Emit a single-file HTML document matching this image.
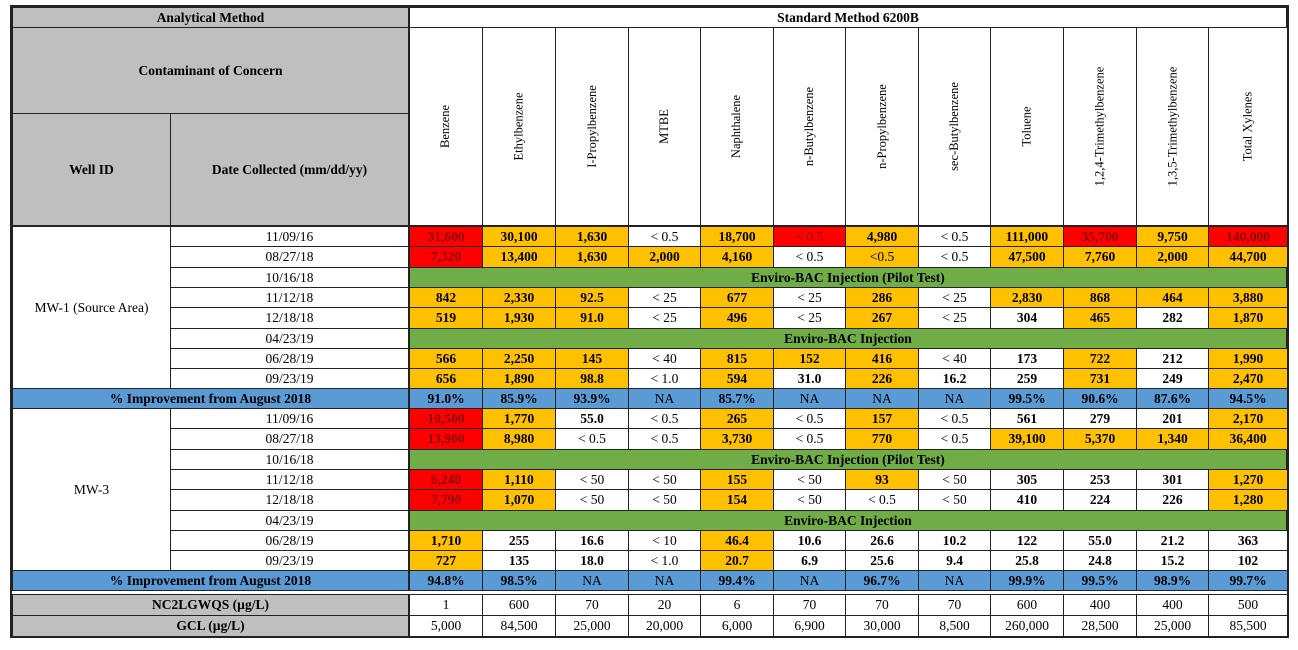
<!DOCTYPE html>
<html><head><meta charset="utf-8">
<style>
html,body{margin:0;padding:0;background:#fff;width:1298px;height:650px;overflow:hidden}
#t{position:absolute;left:0;top:0;width:1298px;height:650px;font-family:"Liberation Serif",serif;color:#000}
.c{position:absolute;box-sizing:border-box;border:1px solid #222;display:flex;align-items:center;justify-content:center;font-size:13.5px;white-space:nowrap;overflow:hidden}
.b{font-weight:bold}
.g{background:#BFBFBF}
.r{background:#FF0000;color:#8B0000}
.o{background:#FFC000}
.w{background:#fff}
.gr{background:#70AD47}
.bl{background:#5B9BD5}
.v span{transform:rotate(-90deg);display:block;font-size:12.5px}
#frame{position:absolute;left:10px;top:5px;width:1279px;height:633px;border:2px solid #222;box-sizing:border-box}
</style></head>
<body>
<div id="t"></div>
<div id="frame"></div>
<script>
const contaminants=["Benzene","Ethylbenzene","I-Propylbenzene","MTBE","Naphthalene","n-Butylbenzene","n-Propylbenzene","sec-Butylbenzene","Toluene","1,2,4-Trimethylbenzene","1,3,5-Trimethylbenzene","Total Xylenes"];
const dates=["11/09/16","08/27/18","10/16/18","11/12/18","12/18/18","04/23/19","06/28/19","09/23/19"];
const mw1Values=[
["31,600","30,100","1,630","< 0.5","18,700","< 0.5","4,980","< 0.5","111,000","35,700","9,750","140,000"],
["7,320","13,400","1,630","2,000","4,160","< 0.5","<0.5","< 0.5","47,500","7,760","2,000","44,700"],
"Enviro-BAC Injection (Pilot Test)",
["842","2,330","92.5","< 25","677","< 25","286","< 25","2,830","868","464","3,880"],
["519","1,930","91.0","< 25","496","< 25","267","< 25","304","465","282","1,870"],
"Enviro-BAC Injection",
["566","2,250","145","< 40","815","152","416","< 40","173","722","212","1,990"],
["656","1,890","98.8","< 1.0","594","31.0","226","16.2","259","731","249","2,470"]];
const mw1Colors=["rooworowored","rrooooowooooo".slice(0,0)+"roooowowoooo",null,"oooowowowooo","oooowowowowo",null,"oooowowowowo","oooowowowowo"];
const mw1Improve=["91.0%","85.9%","93.9%","NA","85.7%","NA","NA","NA","99.5%","90.6%","87.6%","94.5%"];
const mw3Values=[
["10,500","1,770","55.0","< 0.5","265","< 0.5","157","< 0.5","561","279","201","2,170"],
["13,900","8,980","< 0.5","< 0.5","3,730","< 0.5","770","< 0.5","39,100","5,370","1,340","36,400"],
"Enviro-BAC Injection (Pilot Test)",
["6,240","1,110","< 50","< 50","155","< 50","93","< 50","305","253","301","1,270"],
["7,790","1,070","< 50","< 50","154","< 50","< 0.5","< 50","410","224","226","1,280"],
"Enviro-BAC Injection",
["1,710","255","16.6","< 10","46.4","10.6","26.6","10.2","122","55.0","21.2","363"],
["727","135","18.0","< 1.0","20.7","6.9","25.6","9.4","25.8","24.8","15.2","102"]];
const mw3Colors=["rowwowowwwwo","rowwowowoooo",null,"rowwowowwwwo","rowwowwwwwwo",null,"owwwowwwwwww","owwwowwwwwww"];
const mw3Improve=["94.8%","98.5%","NA","NA","99.4%","NA","96.7%","NA","99.9%","99.5%","98.9%","99.7%"];
const standardValues=["1","600","70","20","6","70","70","70","600","400","400","500"];
const gclValues=["5,000","84,500","25,000","20,000","6,000","6,900","30,000","8,500","260,000","28,500","25,000","85,500"];
// fix first MW-1 color row
mw1Colors[0]="rooworoworor";
mw1Colors[1]="roooowowoooo";
mw1Colors[3]="ooowowowoooo";
mw1Colors[4]="ooowowowwowo";
mw1Colors[6]="ooowooowwowo";
mw1Colors[7]="ooowowowwowo";

const T=document.getElementById('t');
const colX=[409,482,555,628,700,773,845,918,990,1063,1136,1208,1287];
function cell(x,y,w,h,txt,cls,name){
  const d=document.createElement('div');
  d.className='c '+cls;
  d.style.left=x+'px';d.style.top=y+'px';d.style.width=w+'px';d.style.height=h+'px';
  const s=document.createElement('span');s.textContent=txt;d.appendChild(s);
  
  
  T.appendChild(d);return d;
}
// header
cell(12,7,397,21,"Analytical Method","g b","analytical-method-header");
cell(409,7,878,21,"Standard Method 6200B","w b","method-name-header");
cell(12,27,397,87,"Contaminant of Concern","g b","contaminant-header");
cell(12,113,159,113,"Well ID","g b","well-id-header");
cell(170,113,239,113,"Date Collected (mm/dd/yy)","g b","date-collected-header");
contaminants.forEach((n,i)=>{cell(colX[i],27,colX[i+1]-colX[i]+1,199,n,"w v","contaminant-"+i);});
function block(top,rowsV,cols,improve,well,prefix){
  const rh=20.3;
  const ys=[];for(let i=0;i<=8;i++)ys.push(Math.round(top+i*rh));
  cell(12,ys[0],159,ys[8]-ys[0]+1,well,"w",prefix+"-well-id");
  rowsV.forEach((r,i)=>{
    const y=ys[i],h=ys[i+1]-ys[i]+1;
    cell(170,y,239,h,dates[i],"w",prefix+"-date-"+i);
    if(typeof r==='string'){cell(409,y,878,h,r,"gr b",prefix+"-injection-note-"+i);return;}
    r.forEach((v,j)=>{
      const c=cols[i][j]==='r'?'r':cols[i][j]==='o'?'o':'w';
      const bold=(v[0]==='<')?'':' b';
      cell(colX[j],y,colX[j+1]-colX[j]+1,h,v,c+bold,prefix+"-value-"+i+"-"+j);
    });
  });
  const y=ys[8],h=21;
  cell(12,y,397,h,"% Improvement from August 2018","bl b",prefix+"-improvement-label");
  improve.forEach((v,j)=>{cell(colX[j],y,colX[j+1]-colX[j]+1,h,v,"bl"+(v==='NA'?'':' b'),prefix+"-improvement-"+j);});
}
block(226,mw1Values,mw1Colors,mw1Improve,"MW-1 (Source Area)","mw1");
block(408,mw3Values,mw3Colors,mw3Improve,"MW-3","mw3");
cell(12,594,397,22,"NC2LGWQS (µg/L)","g b","nc2lgwqs-label");
cell(12,615,397,22,"GCL (µg/L)","g b","gcl-label");
standardValues.forEach((v,j)=>{cell(colX[j],594,colX[j+1]-colX[j]+1,22,v,"w","nc2lgwqs-"+j);});
gclValues.forEach((v,j)=>{cell(colX[j],615,colX[j+1]-colX[j]+1,22,v,"w","gcl-"+j);});
</script>
</body></html>
